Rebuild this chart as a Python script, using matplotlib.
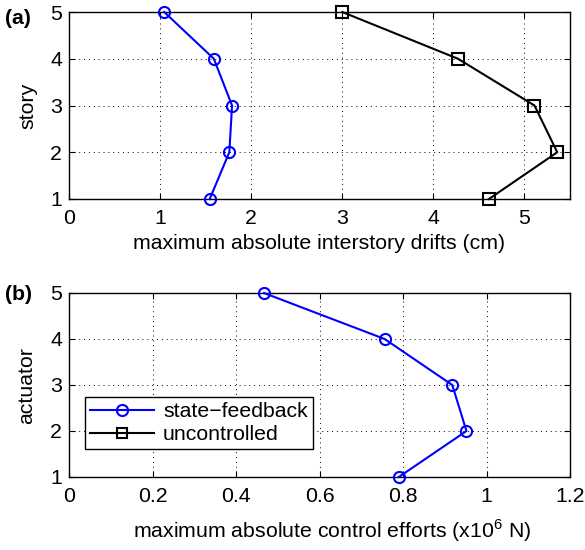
#!/usr/bin/env python3

import matplotlib
matplotlib.use('Agg')
import matplotlib.pyplot as plt

#################################################
### Data
#################################################

levels = [1, 2, 3, 4, 5]

drift_feedback = [1.545, 1.76, 1.79, 1.59, 1.045]
drift_uncontrolled = [4.61, 5.36, 5.11, 4.27, 3.0]

effort_feedback = [0.79, 0.952, 0.918, 0.756, 0.467]

#################################################
### Plotting
#################################################

plt.rcParams['font.family'] = ['Liberation Sans', 'DejaVu Sans']
plt.rcParams['mathtext.fontset'] = 'custom'
plt.rcParams['mathtext.rm'] = 'Liberation Sans'

FS = 15.3
W, H = 585, 550
fig = plt.figure(figsize=(W / 100, H / 100), dpi=100)

ax1 = fig.add_axes([69 / W, 1 - 199 / H, 501 / W, 187 / H])
ax2 = fig.add_axes([69 / W, 1 - 477 / H, 501 / W, 184 / H])

line_kw = dict(markersize=8, markerfacecolor='none', markeredgewidth=1.5,
               linewidth=1.5, clip_on=False, zorder=3)


def style(ax):
    ax.grid(True, color='black', linestyle=(0, (1, 4)), linewidth=0.7)
    ax.tick_params(direction='in', labelsize=FS, length=4, top=True, right=True)
    ax.tick_params(axis='x', pad=7)
    ax.tick_params(axis='y', pad=5)
    for s in ax.spines.values():
        s.set_linewidth(1.0)
    ax.set_ylim(1, 5)
    ax.set_yticks(levels)


# (a)
ax1.plot(drift_feedback, levels, color='blue', marker='o', **line_kw)
ax1.plot(drift_uncontrolled, levels, color='black', marker='s', **line_kw)
style(ax1)
ax1.set_xlim(0, 5.5)
ax1.set_xticks([0, 1, 2, 3, 4, 5])
fig.text(319 / W, 1 - 249 / H, 'maximum absolute interstory drifts (cm)', fontsize=FS,
         ha='center', va='baseline')
fig.text(28 / W, 1 - 106 / H, 'story', fontsize=FS, rotation=90, ha='center', va='center')
fig.text(5 / W, 1 - 19 / H, '(a)', fontsize=FS, fontweight='bold', va='center')

# (b)
l1, = ax2.plot(effort_feedback, levels, color='blue', marker='o', **line_kw)
l2, = ax2.plot([], [], color='black', marker='s', markersize=7, markerfacecolor='none',
               markeredgewidth=1.5, linewidth=1.5)
style(ax2)
ax2.set_xlim(0, 1.2)
ax2.set_xticks([0, 0.2, 0.4, 0.6, 0.8, 1, 1.2])
ax2.set_xticklabels(['0', '0.2', '0.4', '0.6', '0.8', '1', '1.2'])
fig.text(332 / W, 1 - 538 / H, 'maximum absolute control efforts (x10$^{6}$ N)', fontsize=FS,
         ha='center', va='baseline')
fig.text(27 / W, 1 - 386 / H, 'actuator', fontsize=FS, rotation=90, ha='center', va='center')
fig.text(5 / W, 1 - 294 / H, '(b)', fontsize=FS, fontweight='bold', va='center')

leg = ax2.legend([l1, l2], ['state\u2212feedback', 'uncontrolled'], loc='upper left',
                 bbox_to_anchor=(85 / W, 1 - 397 / H), bbox_transform=fig.transFigure,
                 borderaxespad=0, fontsize=FS, fancybox=False, edgecolor='black',
                 framealpha=1, handlelength=3.0, handletextpad=0.42,
                 borderpad=0.25, labelspacing=0.18)
leg.get_frame().set_linewidth(1.0)

fig.savefig('out.png', dpi=100)
